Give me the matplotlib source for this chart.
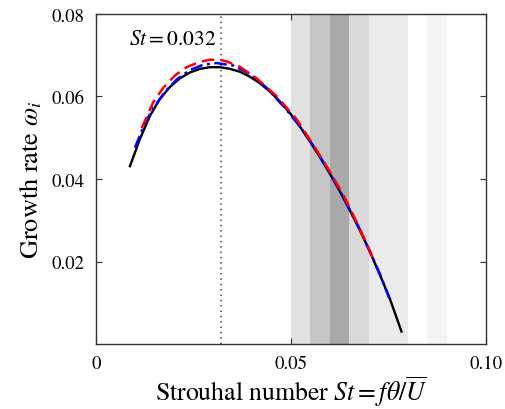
import numpy as np
import matplotlib
matplotlib.use('Agg')
import matplotlib.pyplot as plt

plt.rcParams['font.family'] = 'STIXGeneral'
plt.rcParams['mathtext.fontset'] = 'stix'

# growth rate curves
st_black = [0.00872, 0.01128, 0.01385, 0.01641, 0.01897, 0.02154, 0.02410, 0.02667,
            0.02923, 0.03179, 0.03436, 0.03692, 0.03949, 0.04205, 0.04462, 0.04718,
            0.04974, 0.05231, 0.05487, 0.05744, 0.06000, 0.06256, 0.06513, 0.06769,
            0.07026, 0.07282, 0.07538, 0.07838]
w_black = [0.0431, 0.0497, 0.0553, 0.0594, 0.0623, 0.0644, 0.0658, 0.0667,
           0.0671, 0.0671, 0.0667, 0.0660, 0.0648, 0.0632, 0.0612, 0.0588,
           0.0560, 0.0527, 0.0491, 0.0453, 0.0413, 0.0370, 0.0324, 0.0276,
           0.0224, 0.0168, 0.0110, 0.0030]

st_red = [0.01172, 0.01469, 0.01726, 0.02026, 0.02326, 0.02667, 0.02923, 0.03179,
          0.03351, 0.03692, 0.04121, 0.04633, 0.05146, 0.05572, 0.06000, 0.06341,
          0.06641, 0.07026, 0.07095]
w_red = [0.0523, 0.0586, 0.0621, 0.0651, 0.0671, 0.0684, 0.0689, 0.0689,
         0.0685, 0.0672, 0.0644, 0.0601, 0.0545, 0.0483, 0.0418, 0.0362,
         0.0305, 0.0226, 0.0210]

st_blue = [0.01000, 0.01256, 0.01469, 0.01769, 0.02069, 0.02410, 0.02751, 0.03095,
           0.03521, 0.03949, 0.04377, 0.04803, 0.05231, 0.05659, 0.06256, 0.06769,
           0.07282, 0.07521]
w_blue = [0.0476, 0.0535, 0.0572, 0.0611, 0.0641, 0.0664, 0.0677, 0.0681,
          0.0675, 0.0655, 0.0621, 0.0577, 0.0528, 0.0469, 0.0372, 0.0278,
          0.0170, 0.0112]

# shaded frequency bands
band_lo = [0.050, 0.055, 0.060, 0.065, 0.070, 0.085]
band_hi = [0.055, 0.060, 0.065, 0.070, 0.080, 0.090]
band_col = ['#e1e1e1', '#c5c5c5', '#a9a9a9', '#d9d9d9', '#ebebeb', '#f4f4f4']

st_peak = 0.032

fig = plt.figure(figsize=(5.05, 4.10), dpi=100)
ax = fig.add_axes([0.190, 0.1585, 0.772, 0.805])

for lo, hi, c in zip(band_lo, band_hi, band_col):
    ax.axvspan(lo, hi, color=c, lw=0, zorder=0)

ax.axvline(st_peak, color='#444444', ls=(0, (1, 2.5)), lw=1.1, zorder=1)

ax.plot(st_black, w_black, color='black', lw=1.7, zorder=3)
ax.plot(st_blue, w_blue, color='blue', lw=1.8, ls=(0, (5, 1.8, 1.2, 1.8)), zorder=4)
ax.plot(st_red, w_red, color='red', lw=1.8, ls=(0, (5, 2.5)), zorder=5)

ax.text(st_peak - 0.0012, 0.0738, r'$St = 0.032$', ha='right', va='center', fontsize=15.5)

ax.set_xlim(0, 0.10)
ax.set_ylim(0, 0.08)
ax.set_xticks([0, 0.05, 0.10])
ax.set_xticklabels(['0', '0.05', '0.10'])
ax.set_yticks([0.02, 0.04, 0.06, 0.08])
ax.set_yticklabels(['0.02', '0.04', '0.06', '0.08'])
ax.tick_params(direction='in', top=True, right=True, length=4, width=0.8,
               labelsize=13.5, pad=8, color='#333333')
for s in ax.spines.values():
    s.set_color('#333333')
    s.set_linewidth(1.0)

ax.set_xlabel(r'Strouhal number $St = f\theta/\overline{U}$', fontsize=18.5, labelpad=1)
ax.set_ylabel(r'Growth rate $\omega_i$', fontsize=19, labelpad=5)

fig.savefig('out.png', dpi=100)
